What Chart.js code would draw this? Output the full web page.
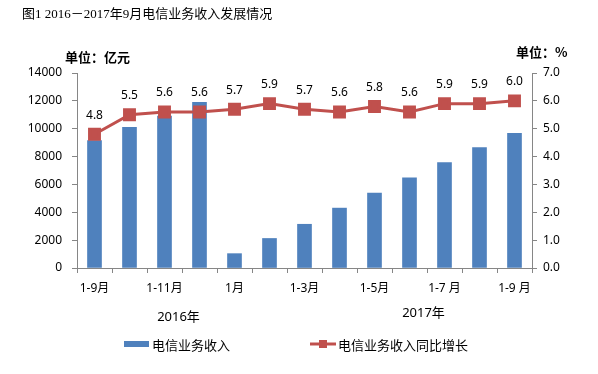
<!DOCTYPE html>
<html lang="zh">
<head>
    <meta charset="UTF-8">
    <title>电信业务收入发展情况</title>
    <style>
        html, body { margin: 0; padding: 0; background: #fff; }
        #wrap { width: 598px; height: 374px; position: relative; }
    </style>
</head>
<body>
    <div id="wrap"><canvas id="myChart" width="598" height="374"></canvas></div>
    <script src="https://cdn.jsdelivr.net/npm/chart.js"></script>
    <script>
        // categories (2016: 1-9 .. 1-12, 2017: 1 .. 1-9)
        var categories = ['1-9月', '1-10月', '1-11月', '1-12月', '1月', '1-2月', '1-3月', '1-4月', '1-5月', '1-6月', '1-7月', '1-8月', '1-9月'];
        var tickLabels = ['1-9月', '', '1-11月', '', '1月', '', '1-3月', '', '1-5月', '', '1-7 月', '', '1-9 月'];
        var yearLabels = ['2016年', '2017年'];
        var revenue = [9150, 10100, 10900, 11893, 1030, 2120, 3140, 4300, 5380, 6470, 7560, 8650, 9660];
        var growth = [4.8, 5.5, 5.6, 5.6, 5.7, 5.9, 5.7, 5.6, 5.8, 5.6, 5.9, 5.9, 6.0];

        var blue = '#4F81BD';
        var red = '#C0504D';
        var cjk = "'Noto Sans CJK SC', sans-serif";
        var num = "'Noto Sans', 'Noto Sans CJK SC', sans-serif";

        var extras = {
            id: 'extras',
            afterDatasetsDraw: function(chart) {
                var ctx = chart.ctx;
                var meta = chart.getDatasetMeta(1);
                ctx.save();
                ctx.fillStyle = '#000';
                ctx.font = '12px ' + num;
                ctx.textAlign = 'center';
                ctx.textBaseline = 'middle';
                meta.data.forEach(function(pt, i) {
                    ctx.fillText(growth[i].toFixed(1), pt.x, pt.y - 19);
                });
                ctx.restore();
            },
            afterDraw: function(chart) {
                var ctx = chart.ctx;
                var x = chart.scales.x;
                ctx.save();
                ctx.fillStyle = '#000';
                ctx.textBaseline = 'middle';
                // title
                ctx.textAlign = 'left';
                ctx.font = "13px 'Liberation Serif', 'Noto Sans CJK SC'";
                ctx.fillText('图1 2016－2017年9月电信业务收入发展情况', 22, 15);
                // units
                ctx.font = 'bold 13px ' + cjk;
                ctx.fillText('单位：亿元', 65, 57);
                ctx.fillText('单位：%', 516, 52);
                // year labels
                ctx.font = '13px ' + num;
                ctx.textAlign = 'center';
                ctx.fillText(yearLabels[0], x.getPixelForValue(2.4), 317);
                ctx.fillText(yearLabels[1], x.getPixelForValue(9.4), 313);
                // legend
                ctx.textAlign = 'left';
                ctx.fillStyle = blue;
                ctx.fillRect(124, 341, 25, 6);
                ctx.fillStyle = '#000';
                ctx.font = '13px ' + cjk;
                ctx.fillText(chart.data.datasets[0].label, 152, 345);
                ctx.strokeStyle = red;
                ctx.lineWidth = 3;
                ctx.beginPath();
                ctx.moveTo(310, 344);
                ctx.lineTo(336, 344);
                ctx.stroke();
                ctx.fillStyle = red;
                ctx.fillRect(319, 340, 8, 8);
                ctx.fillStyle = '#000';
                ctx.fillText(chart.data.datasets[1].label, 338, 345);
                ctx.restore();
            }
        };

        var ctx = document.getElementById('myChart').getContext('2d');
        var myChart = new Chart(ctx, {
            type: 'bar',
            data: {
                labels: categories,
                datasets: [
                    {
                        label: '电信业务收入',
                        data: revenue,
                        yAxisID: 'y',
                        backgroundColor: blue,
                        barThickness: 14,
                        order: 1
                    },
                    {
                        type: 'line',
                        label: '电信业务收入同比增长',
                        data: growth,
                        yAxisID: 'y1',
                        borderColor: red,
                        backgroundColor: red,
                        borderWidth: 3,
                        pointStyle: 'rect',
                        pointRadius: 7,
                        pointHoverRadius: 7,
                        tension: 0,
                        order: 0
                    }
                ]
            },
            options: {
                responsive: false,
                animation: false,
                layout: { padding: { top: 73, left: 0, right: 0, bottom: 0 } },
                plugins: {
                    legend: { display: false },
                    tooltip: { enabled: false }
                },
                scales: {
                    x: {
                        grid: { drawOnChartArea: false, drawTicks: true, tickLength: 5, color: '#868686', offset: true },
                        border: { color: '#868686' },
                        ticks: {
                            autoSkip: false,
                            maxRotation: 0,
                            padding: 8,
                            color: '#000',
                            font: { size: 12, family: num },
                            callback: function(v, i) { return tickLabels[i]; }
                        },
                        afterFit: function(s) { s.height = 106; }
                    },
                    y: {
                        position: 'left',
                        min: 0,
                        max: 14000,
                        grid: { drawOnChartArea: false, tickLength: 5, color: '#868686' },
                        border: { color: '#868686' },
                        ticks: {
                            stepSize: 2000,
                            padding: 10,
                            color: '#000',
                            font: { size: 12, family: num },
                            callback: function(v) { return String(v); }
                        },
                        afterFit: function(s) { s.width = 77; }
                    },
                    y1: {
                        position: 'right',
                        min: 0,
                        max: 7,
                        grid: { drawOnChartArea: false, tickLength: 5, color: '#868686' },
                        border: { color: '#868686' },
                        ticks: {
                            stepSize: 1,
                            padding: 6,
                            color: '#000',
                            font: { size: 12, family: num },
                            callback: function(v) { return v.toFixed(1); }
                        },
                        afterFit: function(s) { s.width = 66; }
                    }
                }
            },
            plugins: [extras]
        });
    </script>
</body>
</html>
